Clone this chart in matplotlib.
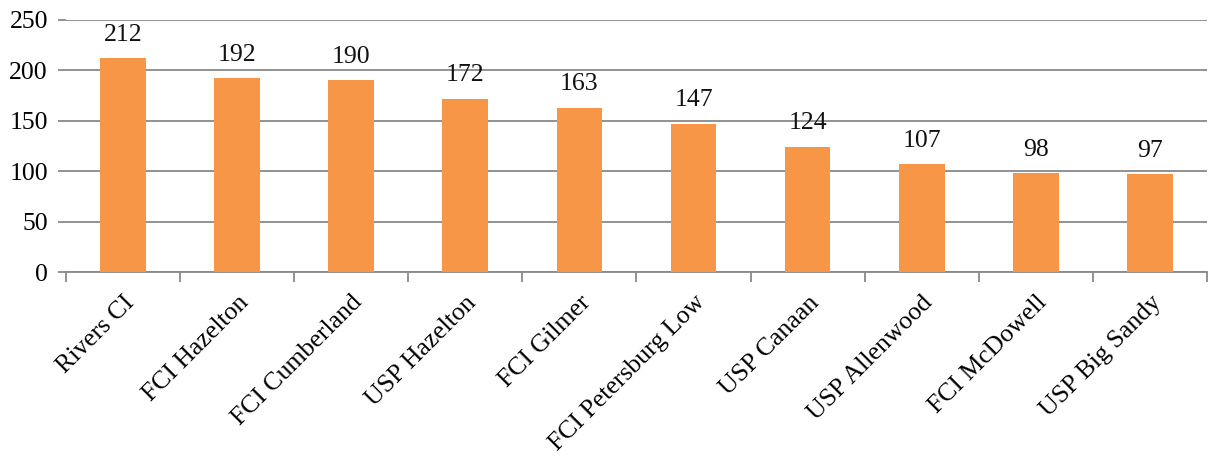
import matplotlib
matplotlib.use("Agg")
import matplotlib.pyplot as plt
import numpy as np

facilities = [
    "Rivers CI", "FCI Hazelton", "FCI Cumberland", "USP Hazelton", "FCI Gilmer",
    "FCI Petersburg Low", "USP Canaan", "USP Allenwood", "FCI McDowell", "USP Big Sandy",
]
counts = [212, 192, 190, 172, 163, 147, 124, 107, 98, 97]
y_ticks = [0, 50, 100, 150, 200, 250]

BAR_COLOR = "#F79646"
GRID_COLOR = "#898989"
FS = 18.5

plt.rcParams["font.family"] = ["Liberation Serif", "DejaVu Serif"]

fig = plt.figure(figsize=(12.1, 4.72), dpi=100)
ax = fig.add_axes([0.0545, 0.4237, 0.943, 0.534])

x = np.arange(len(facilities))
ax.bar(x, counts, width=0.4, color=BAR_COLOR, zorder=3)

for xi, v in zip(x, counts):
    ax.annotate(str(v), (xi, v), xytext=(0, 9), textcoords="offset points",
                ha="center", va="bottom", fontsize=FS, color="#111111")

ax.set_xlim(-0.5, len(facilities) - 0.5)
ax.set_ylim(0, 250)
ax.set_yticks(y_ticks)
ax.yaxis.grid(True, color=GRID_COLOR, linewidth=1.3, zorder=0)
ax.set_axisbelow(True)

# category boundaries get the tick marks, labels sit under the bars
ax.set_xticks(np.arange(len(facilities) + 1) - 0.5)
ax.set_xticklabels([])
ax.set_xticks(x, minor=True)
ax.set_xticklabels(facilities, minor=True, rotation=45, ha="right",
                   rotation_mode="anchor", fontsize=FS)
ax.tick_params(axis="x", which="minor", length=0, pad=14)
ax.tick_params(axis="x", which="major", length=7, color=GRID_COLOR, width=1.3)
ax.tick_params(axis="y", length=6, color=GRID_COLOR, width=1.3, labelsize=FS, pad=7)

for side in ("top", "right", "left"):
    ax.spines[side].set_visible(False)
ax.spines["bottom"].set_color(GRID_COLOR)
ax.spines["bottom"].set_linewidth(1.3)

fig.savefig("out.png", dpi=100)
plt.close(fig)
